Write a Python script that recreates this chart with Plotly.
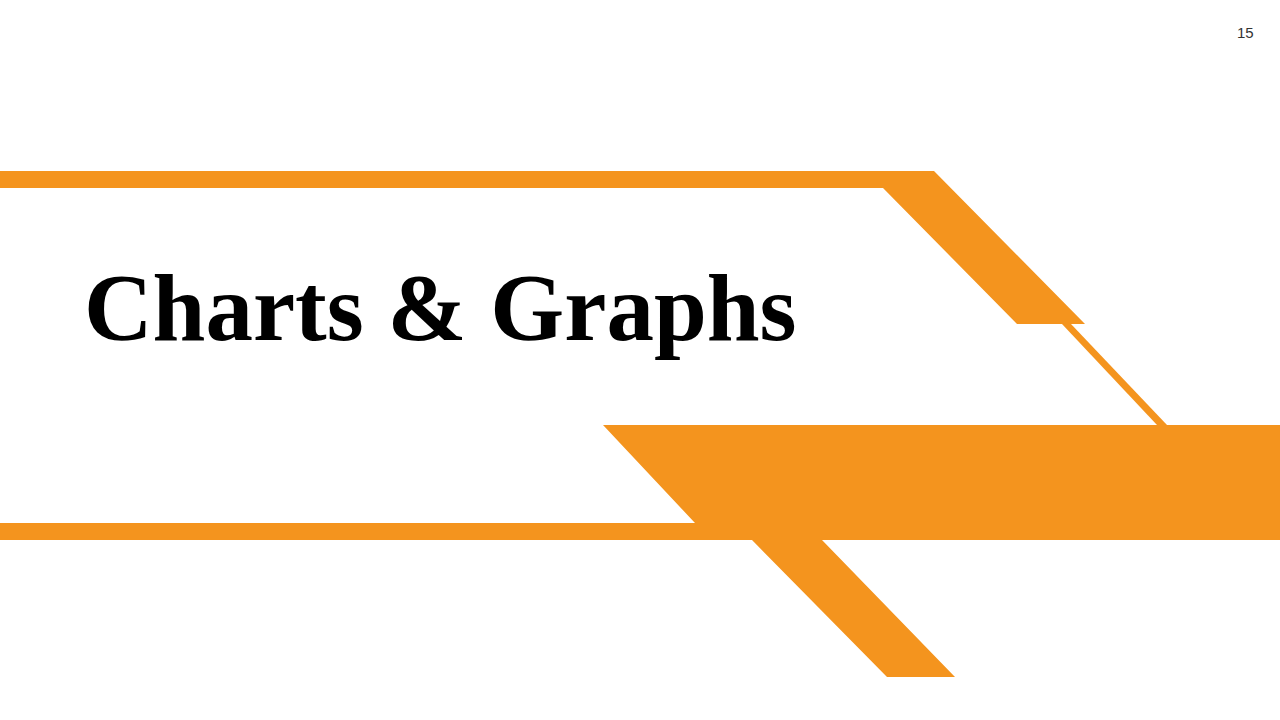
import plotly.graph_objects as go

# slide title and page number
title_text = "Charts & Graphs"
page_number = "15"

# outline of the orange shapes, in slide pixels (x right, y down)
upper_band_x = [0, 934, 1085, 1017, 883, 0]
upper_band_y = [171, 171, 324, 324, 188, 188]

thin_stroke_x = [1062, 1071, 1167, 1157]
thin_stroke_y = [324, 324, 425, 425]

lower_band_x = [0, 695, 603, 1280, 1280, 822, 955, 887, 752, 0]
lower_band_y = [523, 523, 425, 425, 540, 540, 677, 677, 540, 540]

orange = "#F4941E"

fig = go.Figure()
for xs, ys in [(upper_band_x, upper_band_y),
               (thin_stroke_x, thin_stroke_y),
               (lower_band_x, lower_band_y)]:
    fig.add_trace(go.Scatter(
        x=xs + xs[:1], y=ys + ys[:1],
        mode="lines", fill="toself",
        fillcolor=orange, line=dict(color=orange, width=0),
        hoverinfo="skip", showlegend=False,
    ))

fig.add_annotation(
    x=82, y=308, xref="x", yref="y",
    text="<b>" + title_text + "</b>", showarrow=False,
    xanchor="left", yanchor="middle",
    font=dict(family="Liberation Serif", size=95, color="#000000"),
)
fig.add_annotation(
    x=1245.5, y=32, xref="x", yref="y",
    text=page_number, showarrow=False,
    xanchor="center", yanchor="middle",
    font=dict(family="Liberation Sans", size=15, color="#333333"),
)

fig.update_layout(
    width=1280, height=720,
    margin=dict(l=0, r=0, t=0, b=0),
    paper_bgcolor="white", plot_bgcolor="white",
    xaxis=dict(range=[0, 1280], visible=False, fixedrange=True),
    yaxis=dict(range=[720, 0], visible=False, fixedrange=True),
)

# drop the default page margin so the slide sits at the window corner
fig.write_html("out.html", config={"displayModeBar": False},
               post_script="document.body.style.margin='0';")
